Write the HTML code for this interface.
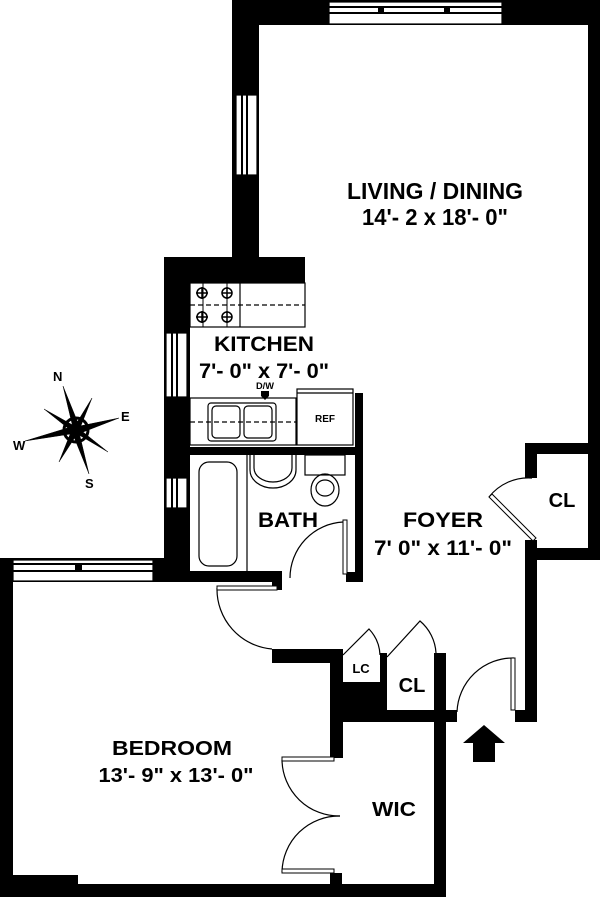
<!DOCTYPE html>
<html><head><meta charset="utf-8"><style>
html,body{margin:0;padding:0;background:#fff;}
svg{display:block;}
text{font-family:"Liberation Sans",Arial,sans-serif;font-weight:bold;fill:#000;}
</style></head><body>
<svg width="600" height="897" viewBox="0 0 600 897" xmlns="http://www.w3.org/2000/svg">
<g fill="#000">
<rect x="232" y="0" width="368" height="25"/>
<rect x="232" y="0" width="27" height="283"/>
<rect x="588" y="0" width="12" height="560"/>
<rect x="164" y="257" width="141" height="26"/>
<rect x="164" y="257" width="26" height="325"/>
<rect x="0" y="558" width="190" height="24"/>
<rect x="190" y="571" width="92" height="11"/>
<rect x="272" y="580" width="10" height="10"/>
<rect x="0" y="558" width="13" height="339"/>
<rect x="0" y="884" width="446" height="13"/>
<rect x="13" y="875" width="65" height="10"/>
<rect x="190" y="447" width="173" height="8"/>
<rect x="355" y="393" width="8" height="189"/>
<rect x="346" y="572" width="17" height="10"/>
<rect x="525" y="443" width="75" height="11"/>
<rect x="525" y="443" width="12" height="35"/>
<rect x="525" y="540" width="12" height="182"/>
<rect x="537" y="548" width="63" height="12"/>
<rect x="515" y="710" width="22" height="12"/>
<rect x="272" y="649" width="70" height="14"/>
<rect x="330" y="649" width="13" height="109"/>
<rect x="330" y="682" width="57" height="40"/>
<rect x="380" y="653" width="7" height="57"/>
<rect x="330" y="710" width="127" height="12"/>
<rect x="434" y="653" width="12" height="244"/>
<rect x="330" y="873" width="12" height="12"/>
</g>
<g fill="#fff" stroke="#000" stroke-width="1.2">
<rect x="329" y="2" width="173" height="22"/>
<rect x="236" y="95" width="21" height="80"/>
<rect x="166" y="333" width="21" height="64"/>
<rect x="166" y="478" width="21" height="30"/>
<rect x="13" y="560" width="140" height="21"/>
</g>
<g fill="#000">
<rect x="329" y="6" width="173" height="2"/><rect x="329" y="12" width="173" height="2"/>
<rect x="378" y="6" width="6" height="8"/><rect x="444" y="6" width="6" height="8"/>
<rect x="241" y="95" width="2" height="80"/><rect x="246" y="95" width="2" height="80"/>
<rect x="171" y="333" width="2" height="64"/><rect x="176" y="333" width="2" height="64"/>
<rect x="171" y="478" width="2" height="30"/><rect x="176" y="478" width="2" height="30"/>
<rect x="13" y="563" width="140" height="2"/><rect x="13" y="570" width="140" height="2"/><rect x="75" y="563" width="7" height="8"/>
</g>
<g fill="none" stroke="#000" stroke-width="1.2">
<rect x="190" y="283" width="115" height="44"/>
<line x1="240" y1="283" x2="240" y2="327"/>
<line x1="190" y1="305" x2="305" y2="305" stroke-dasharray="5,3"/>
<rect x="190" y="398" width="106" height="47"/>
<line x1="190" y1="422" x2="296" y2="422" stroke-dasharray="5,3"/>
<rect x="208" y="403" width="68" height="38" rx="3"/>
<rect x="212" y="406" width="28" height="32" rx="4"/>
<rect x="244" y="406" width="28" height="32" rx="4"/>
<rect x="297" y="389" width="56" height="56"/>
<line x1="297" y1="393" x2="353" y2="393"/>
<rect x="199" y="462" width="38" height="104" rx="10"/>
<line x1="247" y1="455" x2="247" y2="571"/>
<path d="M250 455 V470 A23 18 0 0 0 296 470 V455"/>
<path d="M254 455 V468 A19 14 0 0 0 292 468 V455"/>
<rect x="305" y="455" width="40" height="20"/>
<ellipse cx="325" cy="490" rx="14" ry="16"/>
<ellipse cx="325" cy="488" rx="9" ry="8"/>
<path d="M343 522 A56 56 0 0 0 290 578"/>
<path d="M217 588 A60 60 0 0 0 272 649"/>
<path d="M343 655 L369 629 A40 40 0 0 1 380 655"/>
<path d="M387 657 L420 621 A45 45 0 0 1 436 653"/>
<path d="M514 658 A56 56 0 0 0 457 712"/>
<path d="M532 478 A50 50 0 0 0 489 497"/>
<path d="M282 760 A57 57 0 0 0 340 816"/>
<path d="M282 872 A57 57 0 0 1 340 816"/>
</g>
<g fill="#fff" stroke="#000" stroke-width="1">
<rect x="343" y="520" width="4" height="54"/>
<rect x="217" y="586" width="60" height="4"/>
<rect x="511" y="658" width="4" height="52"/>
<polygon points="489,497 492,494 536,538 533,541"/>
<rect x="282" y="757" width="52" height="4"/>
<rect x="282" y="869" width="52" height="4"/>
</g>
<g fill="none" stroke="#000" stroke-width="1.5">
<line x1="203" y1="283" x2="203" y2="327" stroke-width="1"/>
<line x1="227" y1="283" x2="227" y2="327" stroke-width="1"/>
<circle cx="202" cy="293" r="5"/><circle cx="227" cy="293" r="5"/>
<circle cx="202" cy="317" r="5"/><circle cx="227" cy="317" r="5"/>
<path d="M196 293h12M202 287v12M222 293h10M227 287v12M196 317h12M202 311v12M222 317h10M227 311v12"/>
</g>
<polygon points="261,391 269,391 269,396 265,400 261,396" fill="#000"/>
<polygon points="484,725 505,743 495,743 495,762 473,762 473,743 463,743" fill="#000"/>
<g fill="#000" stroke="#000">
<circle cx="76" cy="430" r="12" fill="none" stroke-width="3"/>
<polygon points="63,386 80,428 74,432" stroke-width="0.5"/>
<polygon points="89,474 72,432 78,428" stroke-width="0.5"/>
<polygon points="25,441 74,426 77,433" stroke-width="0.5"/>
<polygon points="119,418 78,434 75,427" stroke-width="0.5"/>
<polygon points="44,409 78,428 74,433" stroke-width="0.5"/>
<polygon points="108,452 74,432 78,428" stroke-width="0.5"/>
<polygon points="92,398 78,433 73,429" stroke-width="0.5"/>
<polygon points="59,462 73,427 79,431" stroke-width="0.5"/>
</g>
<g style="font-family:'Liberation Serif',serif;font-weight:bold" font-size="13">
<text x="53" y="381">N</text>
<text x="121" y="421">E</text>
<text x="85" y="488">S</text>
<text x="13" y="450">W</text>
</g>
<g text-anchor="middle">
<text x="435" y="199" font-size="23" textLength="176" lengthAdjust="spacingAndGlyphs">LIVING / DINING</text>
<text x="435" y="225" font-size="23" textLength="146" lengthAdjust="spacingAndGlyphs">14'- 2 x 18'- 0"</text>
<text x="264" y="351" font-size="21" textLength="100" lengthAdjust="spacingAndGlyphs">KITCHEN</text>
<text x="264" y="378" font-size="21" textLength="130" lengthAdjust="spacingAndGlyphs">7'- 0" x 7'- 0"</text>
<text x="265" y="389" font-size="9" textLength="18" lengthAdjust="spacingAndGlyphs">D/W</text>
<text x="325" y="422" font-size="10">REF</text>
<text x="288" y="527" font-size="21" textLength="60" lengthAdjust="spacingAndGlyphs">BATH</text>
<text x="443" y="527" font-size="21" textLength="80" lengthAdjust="spacingAndGlyphs">FOYER</text>
<text x="443" y="555" font-size="21" textLength="138" lengthAdjust="spacingAndGlyphs">7' 0" x 11'- 0"</text>
<text x="562" y="507" font-size="20">CL</text>
<text x="361" y="673" font-size="13">LC</text>
<text x="412" y="692" font-size="20">CL</text>
<text x="172" y="755" font-size="20" textLength="120" lengthAdjust="spacingAndGlyphs">BEDROOM</text>
<text x="176" y="782" font-size="20" textLength="155" lengthAdjust="spacingAndGlyphs">13'- 9" x 13'- 0"</text>
<text x="394" y="816" font-size="20" textLength="44" lengthAdjust="spacingAndGlyphs">WIC</text>
</g>
</svg>
</body></html>
